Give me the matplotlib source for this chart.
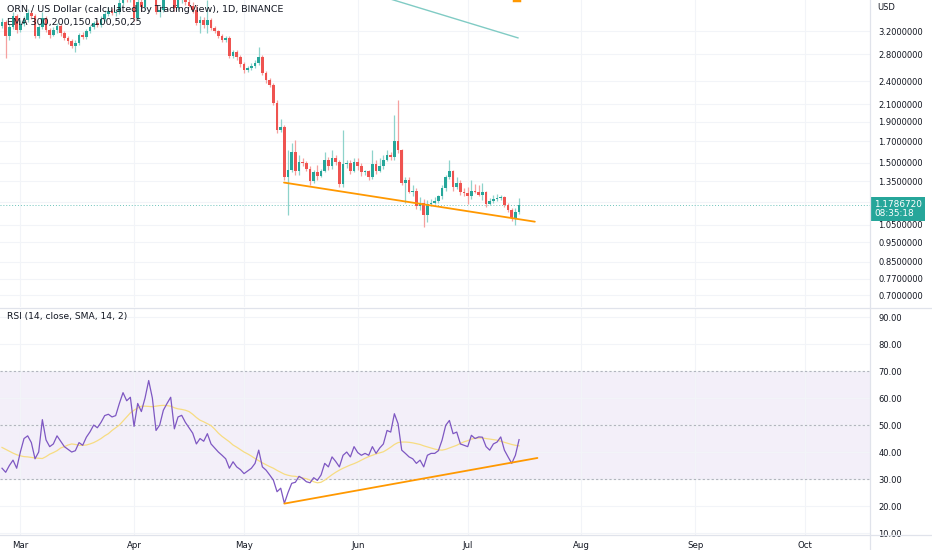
import numpy as np
import matplotlib
matplotlib.use("Agg")
import matplotlib.pyplot as plt
from matplotlib.lines import Line2D
from matplotlib.ticker import FixedLocator, NullLocator
from matplotlib.transforms import blended_transform_factory

plt.rcParams["font.family"] = ["DejaVu Sans"]

# daily candles, Feb 24 .. Jul 15 (ORN/USD)
opens = [3.29, 3.37, 3.11, 3.27, 3.49, 3.22, 3.33, 3.41, 3.55, 3.49,
         3.11, 3.27, 3.45, 3.22, 3.13, 3.22, 3.29, 3.17, 3.08, 3.02,
         2.94, 2.99, 3.13, 3.09, 3.20, 3.27, 3.35, 3.31, 3.43, 3.53,
         3.59, 3.55, 3.57, 3.76, 3.96, 3.83, 3.94, 3.45, 3.79, 3.67,
         4.05, 4.39, 4.10, 3.57, 3.61, 3.90, 4.10, 4.20, 3.65, 3.83,
         3.90, 3.79, 3.70, 3.61, 3.35, 3.41, 3.31, 3.41, 3.26, 3.20,
         3.11, 3.04, 3.08, 2.77, 2.84, 2.76, 2.65, 2.56, 2.59, 2.62,
         2.67, 2.76, 2.52, 2.42, 2.35, 2.12, 1.81, 1.84, 1.38, 1.44,
         1.60, 1.43, 1.51, 1.50, 1.45, 1.35, 1.42, 1.39, 1.43, 1.53,
         1.47, 1.54, 1.51, 1.33, 1.49, 1.50, 1.43, 1.51, 1.47, 1.42,
         1.43, 1.38, 1.49, 1.43, 1.47, 1.53, 1.57, 1.55, 1.70, 1.62,
         1.34, 1.36, 1.27, 1.28, 1.17, 1.19, 1.11, 1.185, 1.19, 1.205,
         1.24, 1.30, 1.38, 1.43, 1.31, 1.34, 1.27, 1.265, 1.24, 1.28,
         1.27, 1.25, 1.27, 1.185, 1.205, 1.22, 1.227, 1.235, 1.178, 1.145,
         1.094, 1.13]
highs = [3.45, 3.41, 3.33, 3.57, 3.53, 3.41, 3.49, 3.63, 3.61, 3.53,
         3.33, 3.57, 3.49, 3.26, 3.27, 3.35, 3.33, 3.20, 3.11, 3.06,
         3.04, 3.17, 3.18, 3.24, 3.31, 3.39, 3.41, 3.49, 3.61, 3.68,
         3.65, 3.63, 3.87, 4.05, 4.05, 4.10, 4.00, 3.87, 3.94, 4.14,
         4.55, 4.45, 4.14, 3.70, 3.99, 4.20, 4.34, 4.24, 3.90, 3.99,
         3.97, 3.87, 3.79, 3.72, 3.49, 3.47, 3.83, 3.45, 3.29, 3.22,
         3.15, 3.11, 3.11, 2.87, 2.87, 2.79, 2.68, 2.62, 2.67, 2.71,
         2.93, 2.79, 2.54, 2.44, 2.37, 2.15, 1.93, 1.87, 1.62, 1.68,
         1.71, 1.57, 1.54, 1.52, 1.47, 1.44, 1.48, 1.45, 1.60, 1.55,
         1.62, 1.57, 1.53, 1.81, 1.53, 1.53, 1.54, 1.54, 1.50, 1.44,
         1.44, 1.62, 1.53, 1.54, 1.57, 1.62, 1.60, 1.98, 2.15, 1.63,
         1.38, 1.38, 1.32, 1.30, 1.23, 1.22, 1.21, 1.22, 1.23, 1.25,
         1.32, 1.40, 1.53, 1.44, 1.38, 1.36, 1.30, 1.31, 1.36, 1.33,
         1.32, 1.34, 1.28, 1.225, 1.25, 1.255, 1.25, 1.24, 1.19, 1.16,
         1.16, 1.225]
lows = [3.26, 2.75, 3.04, 3.24, 3.17, 3.18, 3.29, 3.37, 3.43, 3.08,
        3.08, 3.24, 3.18, 3.08, 3.11, 3.17, 3.11, 3.04, 2.97, 2.91,
        2.84, 2.95, 3.06, 3.06, 3.17, 3.24, 3.27, 3.27, 3.39, 3.49,
        3.51, 3.49, 3.53, 3.72, 3.79, 3.79, 3.39, 3.41, 3.59, 3.61,
        4.01, 4.05, 3.53, 3.47, 3.57, 3.86, 4.01, 3.59, 3.61, 3.76,
        3.72, 3.67, 3.55, 3.31, 3.17, 3.26, 3.17, 3.22, 3.17, 3.08,
        3.00, 3.00, 2.74, 2.74, 2.71, 2.60, 2.52, 2.53, 2.56, 2.59,
        2.63, 2.49, 2.38, 2.32, 2.09, 1.78, 1.79, 1.36, 1.11, 1.42,
        1.40, 1.40, 1.47, 1.43, 1.32, 1.34, 1.36, 1.38, 1.42, 1.44,
        1.45, 1.48, 1.31, 1.31, 1.46, 1.41, 1.42, 1.44, 1.39, 1.40,
        1.36, 1.37, 1.41, 1.42, 1.45, 1.52, 1.53, 1.53, 1.59, 1.32,
        1.19, 1.26, 1.24, 1.15, 1.145, 1.04, 1.07, 1.17, 1.185, 1.19,
        1.22, 1.28, 1.37, 1.28, 1.29, 1.25, 1.24, 1.185, 1.22, 1.26,
        1.24, 1.21, 1.165, 1.18, 1.19, 1.205, 1.213, 1.165, 1.13, 1.076,
        1.05, 1.12]
closes = [3.37, 3.11, 3.27, 3.49, 3.22, 3.33, 3.41, 3.55, 3.49, 3.11,
          3.27, 3.45, 3.22, 3.13, 3.22, 3.29, 3.17, 3.08, 3.02, 2.94,
          2.99, 3.13, 3.09, 3.20, 3.27, 3.35, 3.31, 3.43, 3.53, 3.59,
          3.55, 3.57, 3.76, 3.96, 3.83, 3.94, 3.45, 3.79, 3.67, 4.05,
          4.39, 4.10, 3.57, 3.61, 3.90, 4.10, 4.20, 3.65, 3.83, 3.90,
          3.79, 3.70, 3.61, 3.35, 3.41, 3.31, 3.41, 3.26, 3.20, 3.11,
          3.04, 3.08, 2.77, 2.84, 2.76, 2.65, 2.56, 2.59, 2.62, 2.67,
          2.76, 2.52, 2.42, 2.35, 2.12, 1.81, 1.84, 1.38, 1.44, 1.60,
          1.43, 1.51, 1.50, 1.45, 1.35, 1.42, 1.39, 1.43, 1.53, 1.47,
          1.54, 1.51, 1.33, 1.49, 1.50, 1.43, 1.51, 1.47, 1.42, 1.43,
          1.38, 1.49, 1.43, 1.47, 1.53, 1.57, 1.55, 1.70, 1.62, 1.34,
          1.36, 1.27, 1.28, 1.17, 1.19, 1.11, 1.185, 1.19, 1.205, 1.24,
          1.30, 1.38, 1.43, 1.31, 1.34, 1.27, 1.265, 1.24, 1.28, 1.27,
          1.25, 1.27, 1.185, 1.205, 1.22, 1.227, 1.235, 1.178, 1.145, 1.094,
          1.13, 1.1787]

rsi = [34, 32.5, 35, 37, 34, 40, 45, 46, 43.5, 37.5,
       40, 52, 44.5, 42, 43, 46, 44, 42, 41, 40,
       40.5, 43.5, 42.5, 45.5, 47.5, 50, 49, 51, 53.5, 54,
       53, 53.5, 58, 62, 59, 60.3, 49.5, 58, 55, 60,
       66.5, 60, 48, 50, 55.5, 58, 60.3, 48.6, 53, 53.6,
       51, 49, 47, 43, 45, 44, 46.8, 43, 41.5, 40,
       38.8, 37.5, 34, 36.4, 34.5, 33.5, 32, 33, 34, 35.8,
       40.7, 34.5, 33.3, 31.5, 29.6, 25.3, 26.6, 21, 25, 28.4,
       28.8, 31, 30.2, 29, 28.6, 30.5, 29.5, 31.5, 35.8, 34.5,
       38.2, 36.5, 34.5, 38.8, 40, 38.2, 42, 39.8, 38.8, 39.5,
       38.8, 42, 39.5, 41.5, 43, 48, 47.4, 54.2, 50.5, 40.7,
       39.5, 38.2, 37.5, 35.8, 37, 34.5, 38.8, 39.5, 39.5, 40.5,
       44.4, 49.9, 51.7, 46.8, 47.4, 43, 42.5, 42, 46.2, 45,
       45.6, 45.5, 42, 40.7, 43, 43.7, 45.6, 40.7, 38.2, 35.8,
       38.8, 44.6]
rsi_sma = [41.7, 41, 40.3, 39.6, 39, 38.6, 38.3, 38.2, 38, 37.8,
           37.7, 37.6, 38.3, 39.2, 39.8, 40.5, 41.5, 42, 42.6, 43,
           42.8, 42.5, 42.5, 42.6, 43, 43.5, 44.2, 45, 46, 46.8,
           48, 49, 50, 51.5, 53, 54.5, 55.5, 56.3, 57, 57,
           56.9, 56.8, 57, 57.2, 57.3, 57.2, 57, 56.4, 56, 55.8,
           55.5, 55, 54, 52.8, 51.8, 51.2, 50.5, 49.8, 48.5, 47,
           45.8, 44.8, 43.8, 42.6, 41.8, 40.9, 40, 39.3, 38.5, 37.6,
           36.8, 36, 35.3, 34.6, 34, 33.2, 32.5, 31.8, 31.4, 31.1,
           31, 30.7, 30.4, 30.1, 29.6, 29, 28.6, 28.8, 29.6, 30.6,
           31.6, 32.5, 33.3, 34, 34.6, 35.2, 35.7, 36.3, 37, 37.7,
           38.3, 38.8, 39.3, 39.7, 40.1, 40.9, 41.8, 42.8, 43.5, 43.7,
           43.7, 43.6, 43.4, 43.1, 42.8, 42.3, 41.9, 41.5, 41.1, 40.8,
           40.7, 41, 41.5, 42, 42.5, 43.2, 43.8, 44.2, 44.8, 45.1,
           45.2, 45.2, 45, 44.8, 44.6, 44.4, 44, 43.6, 43.2, 42.8,
           42.5, 42.3]

month_names = ["Mar", "Apr", "May", "Jun", "Jul", "Aug", "Sep", "Oct"]
month_starts = [5, 36, 66, 97, 127, 158, 189, 219]   # day index of the 1st
price_ticks = [3.2, 2.8, 2.4, 2.1, 1.9, 1.7, 1.5, 1.35, 1.2, 1.05, 0.95, 0.85, 0.77, 0.70]
rsi_ticks = [10, 20, 30, 40, 50, 60, 70, 80, 90]
last_price = 1.178672
countdown = "08:35:18"

# drawn lines (day index, value)
price_trend_x, price_trend_y = [76.9, 145.3], [1.34, 1.07]
rsi_trend_x, rsi_trend_y = [77, 146], [20.9, 37.8]
ema_x, ema_y = [100, 140.7], [4.00, 3.08]
ema_orange_x, ema_orange_y = [139.6, 141], [3.84, 3.84]

UP, DOWN = "#26a69a", "#ef5350"
TXT = "#131722"
GRID = "#f2f4f8"
FS = 6.0

fig = plt.figure(figsize=(9.32, 5.5), dpi=100)
ax = fig.add_axes([0, 1 - 307 / 550, 870 / 932, 307 / 550])
ax_r = fig.add_axes([0, 15 / 550, 870 / 932, 226 / 550], sharex=ax)

x = np.arange(len(closes))
o, h, l, c = map(np.array, (opens, highs, lows, closes))
up = c >= o
ax.vlines(x, l, h, colors=np.where(up, "#8ed3cb", "#f5a09f"), lw=0.9, zorder=3)
ax.bar(x, np.maximum(np.abs(c - o), 0.004), bottom=np.minimum(o, c), width=0.72,
       color=np.where(up, UP, DOWN), lw=0, zorder=4)

ax.plot(price_trend_x, price_trend_y, color="#ff9800", lw=1.3, zorder=5, solid_capstyle="round")
ax.plot(ema_x, ema_y, color="#80cbc4", lw=1.0, zorder=2)
ax.plot(ema_orange_x, ema_orange_y, color="#ff9800", lw=2.5, zorder=2)
ax.axhline(last_price, color="#6cc3ba", lw=0.7, ls=(0, (1, 2)), zorder=1)

ax.set_yscale("log")
ax.set_ylim(0.655, 3.83)
ax.set_xlim(-0.55, 236.7)
ax.yaxis.set_major_locator(FixedLocator(price_ticks))
ax.yaxis.set_minor_locator(NullLocator())
ax.set_yticklabels([f"{t:.7f}" for t in price_ticks])
ax.yaxis.tick_right()
ax.tick_params(axis="y", length=0, pad=6, labelsize=FS, labelcolor=TXT)
ax.tick_params(axis="x", length=0, labelbottom=False)
ax.set_xticks(month_starts)
ax.grid(True, color=GRID, lw=0.8)
ax.set_axisbelow(True)
for s in ax.spines.values():
    s.set_visible(False)

ax.text(1.008, 1 - 7 / 307, "USD", transform=ax.transAxes, fontsize=FS, color=TXT,
        ha="left", va="center")
ax.text(0.008, 1 - 9 / 307, "ORN / US Dollar (calculated by TradingView), 1D, BINANCE",
        transform=ax.transAxes, fontsize=6.8, color=TXT, ha="left", va="center", zorder=10)
ax.text(0.008, 1 - 23 / 307, "EMA 300,200,150,100,50,25", transform=ax.transAxes,
        fontsize=6.8, color=TXT, ha="left", va="center", zorder=10)

trans = blended_transform_factory(ax.transAxes, ax.transData)
ax.annotate(f"{last_price:.7f}\n{countdown}", xy=(1, last_price), xycoords=trans,
            xytext=(4, 5), textcoords="offset pixels", ha="left", va="top",
            fontsize=6.4, color="white", linespacing=1.05, annotation_clip=False,
            bbox=dict(boxstyle="square,pad=0.3", fc=UP, ec="none"), zorder=20)

# RSI pane
ax_r.axhspan(30, 70, color="#7e57c2", alpha=0.09, lw=0, zorder=0)
for lvl in (70, 50, 30):
    ax_r.axhline(lvl, color="#b2b5be", lw=0.8, ls=(0, (2, 2)), zorder=1)
ax_r.plot(x, rsi_sma, color="#f7dc82", lw=0.9, zorder=3)
ax_r.plot(x, rsi, color="#7e57c2", lw=0.9, zorder=4)
ax_r.plot(rsi_trend_x, rsi_trend_y, color="#ff9800", lw=1.3, zorder=5, solid_capstyle="round")
ax_r.set_ylim(9.26, 93)
ax_r.set_yticks(rsi_ticks)
ax_r.set_yticklabels([f"{t:.2f}" for t in rsi_ticks])
ax_r.yaxis.tick_right()
ax_r.tick_params(axis="y", length=0, pad=6, labelsize=FS, labelcolor=TXT)
ax_r.set_xticks(month_starts)
ax_r.set_xticklabels(month_names)
ax_r.tick_params(axis="x", length=0, pad=4, labelsize=6.2, labelcolor=TXT)
ax_r.grid(True, color=GRID, lw=0.8)
ax_r.set_axisbelow(True)
for s in ax_r.spines.values():
    s.set_visible(False)
ax_r.text(0.008, 1 - 8 / 226, "RSI (14, close, SMA, 14, 2)", transform=ax_r.transAxes,
          fontsize=6.6, color=TXT, ha="left", va="center")

# pane borders
for yy in (1 - 308 / 550, 15 / 550):
    fig.add_artist(Line2D([0, 1], [yy, yy], color="#e0e3eb", lw=0.9))
fig.add_artist(Line2D([870 / 932, 870 / 932], [0, 1], color="#e0e3eb", lw=0.9))

fig.savefig("out.png", dpi=100, facecolor="white")
